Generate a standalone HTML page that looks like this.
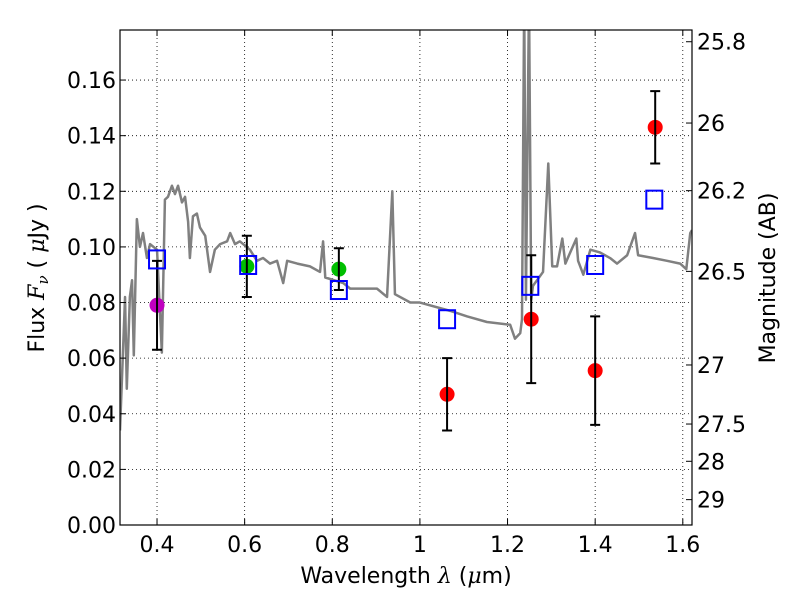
<!DOCTYPE html>
<html><head><meta charset="utf-8"><style>
body{margin:0;background:#fff;}
svg text{font-family:"DejaVu Sans","Liberation Sans",sans-serif;}
</style></head><body>
<svg id="chart" width="800" height="600" xmlns="http://www.w3.org/2000/svg">
<rect width="800" height="600" fill="#fff"/>
<g id="grid"></g>
<g id="spec"></g>
<g id="marks"></g>
<rect x="120" y="30" width="572" height="495" fill="none" stroke="#000" stroke-width="1.2"/>
<g id="axes"></g>
<text x="406" y="583" font-size="22" text-anchor="middle">Wavelength  <tspan font-family="DejaVu Serif" font-style="italic">λ</tspan> (<tspan font-family="DejaVu Serif" font-style="italic">μ</tspan>m)</text>
<text transform="translate(44,278) rotate(-90)" font-size="22" text-anchor="middle">Flux  <tspan font-family="DejaVu Serif" font-style="italic">F<tspan font-size="15" dy="4">ν</tspan></tspan><tspan dy="-4">  (  </tspan><tspan font-family="DejaVu Serif" font-style="italic">μ</tspan>Jy )</text>
<text transform="translate(775,278) rotate(-90)" font-size="22" text-anchor="middle">Magnitude (AB)</text>
</svg>
<script>
const xTicks=[0.4,0.6,0.8,1.0,1.2,1.4,1.6];
const xTickLabels=["0.4","0.6","0.8","1","1.2","1.4","1.6"];
const yTicks=[0,0.02,0.04,0.06,0.08,0.10,0.12,0.14,0.16];
const yTickLabels=["0.00","0.02","0.04","0.06","0.08","0.10","0.12","0.14","0.16"];
const magTicks=[25.8,26,26.2,26.5,27,27.5,28,29];
const magLabels=["25.8","26","26.2","26.5","27","27.5","28","29"];
const specLam=[0.3155,0.327,0.331,0.338,0.343,0.347,0.354,0.361,0.368,0.377,0.384,0.400,0.411,0.418,0.425,0.434,0.441,0.448,0.457,0.464,0.471,0.475,0.482,0.491,0.498,0.510,0.521,0.532,0.544,0.560,0.567,0.578,0.589,0.612,0.628,0.642,0.658,0.674,0.688,0.697,0.720,0.749,0.772,0.779,0.784,0.825,0.841,0.870,0.902,0.925,0.937,0.943,0.978,1.000,1.069,1.108,1.153,1.206,1.217,1.229,1.233,1.238,1.242,1.249,1.254,1.258,1.281,1.293,1.302,1.313,1.325,1.332,1.343,1.357,1.361,1.373,1.389,1.411,1.434,1.450,1.473,1.491,1.498,1.532,1.564,1.594,1.608,1.617,1.621];
const specFlux=[0.034,0.082,0.049,0.082,0.088,0.061,0.110,0.100,0.105,0.096,0.101,0.099,0.062,0.117,0.118,0.122,0.119,0.122,0.116,0.118,0.109,0.096,0.111,0.112,0.107,0.104,0.091,0.099,0.101,0.102,0.105,0.101,0.102,0.099,0.095,0.096,0.094,0.095,0.087,0.095,0.094,0.093,0.091,0.102,0.089,0.087,0.085,0.085,0.085,0.082,0.120,0.083,0.080,0.080,0.077,0.075,0.073,0.072,0.067,0.069,0.074,0.19,0.081,0.19,0.081,0.086,0.091,0.130,0.093,0.093,0.103,0.094,0.098,0.103,0.095,0.090,0.099,0.098,0.096,0.094,0.097,0.105,0.097,0.096,0.095,0.094,0.092,0.105,0.106];
const obsLam=[0.40,0.605,0.815,1.062,1.254,1.40,1.537];
const obsFlux=[0.079,0.093,0.092,0.047,0.074,0.0555,0.143];
const obsErr=[0.016,0.011,0.0075,0.013,0.023,0.0195,0.013];
const obsColor=["#bf00bf","#00bf00","#00bf00","red","red","red","red"];
const modLam=[0.40,0.608,0.815,1.062,1.252,1.40,1.535];
const modFlux=[0.0955,0.0935,0.0845,0.074,0.086,0.0935,0.117];
const X0=120,X1=692,Y0=525,Y1=30,LMIN=0.3155,LMAX=1.621,FMAX=0.178;
const sx=l=>X0+(l-LMIN)/(LMAX-LMIN)*(X1-X0);
const sy=f=>Y0-f/FMAX*(Y0-Y1);
const magToFlux=m=>Math.pow(10,(23.9-m)/2.5);
const NS="http://www.w3.org/2000/svg";
function mk(p,t,a){const e=document.createElementNS(NS,t);for(const k in a)e.setAttribute(k,a[k]);p.appendChild(e);return e;}
const grid=document.getElementById('grid'),axes=document.getElementById('axes');
xTicks.forEach((v,i)=>{const x=sx(v);
 const g=mk(grid,'line',{x1:x,x2:x,y1:Y1,y2:Y0,stroke:'#000','stroke-width':0.8,'stroke-dasharray':'1,3'});
 
 mk(axes,'line',{x1:x,x2:x,y1:Y0,y2:Y0-6,stroke:'#000'});mk(axes,'line',{x1:x,x2:x,y1:Y1,y2:Y1+6,stroke:'#000'});
 const t=mk(axes,'text',{x:x,y:Y0+27,'font-size':22,'text-anchor':'middle'});t.textContent=xTickLabels[i];
 });
yTicks.forEach((v,i)=>{const y=sy(v);
 const g=mk(grid,'line',{x1:X0,x2:X1,y1:y,y2:y,stroke:'#000','stroke-width':0.8,'stroke-dasharray':'1,3'});
 
 mk(axes,'line',{x1:X0,x2:X0+6,y1:y,y2:y,stroke:'#000'});
 const t=mk(axes,'text',{x:X0-4,y:y+8,'font-size':22,'text-anchor':'end'});t.textContent=yTickLabels[i];
 });
magTicks.forEach((m,i)=>{const y=sy(magToFlux(m));
 mk(axes,'line',{x1:X1,x2:X1-6,y1:y,y2:y,stroke:'#000'});
 const t=mk(axes,'text',{x:X1+5,y:y+8,'font-size':22});t.textContent=magLabels[i];
 });
const spec=document.getElementById('spec');
mk(spec,'clipPath',{id:'clip'});mk(spec.lastChild,'rect',{x:X0,y:Y1,width:X1-X0,height:Y0-Y1});
const pl=mk(spec,'polyline',{points:specLam.map((l,i)=>sx(l)+','+sy(specFlux[i])).join(' '),fill:'none',stroke:'#808080','stroke-width':2.5,'stroke-linejoin':'round','clip-path':'url(#clip)'});

const marks=document.getElementById('marks');
obsLam.forEach((l,i)=>{const x=sx(l),yt=sy(obsFlux[i]+obsErr[i]),yb=sy(obsFlux[i]-obsErr[i]);
 const c=mk(marks,'circle',{cx:x,cy:sy(obsFlux[i]),r:7.5,fill:obsColor[i]});
 
 const e=mk(marks,'path',{d:`M${x},${yt}V${yb}M${x-5},${yt}H${x+5}M${x-5},${yb}H${x+5}`,stroke:'#000','stroke-width':2,fill:'none'});
 });
modLam.forEach((l,i)=>{const x=sx(l),y=sy(modFlux[i]);
 const r=mk(marks,'rect',{x:x-8,y:y-9,width:16,height:18,fill:'none',stroke:'#0000ff','stroke-width':2});
 });
</script>
</body></html>
